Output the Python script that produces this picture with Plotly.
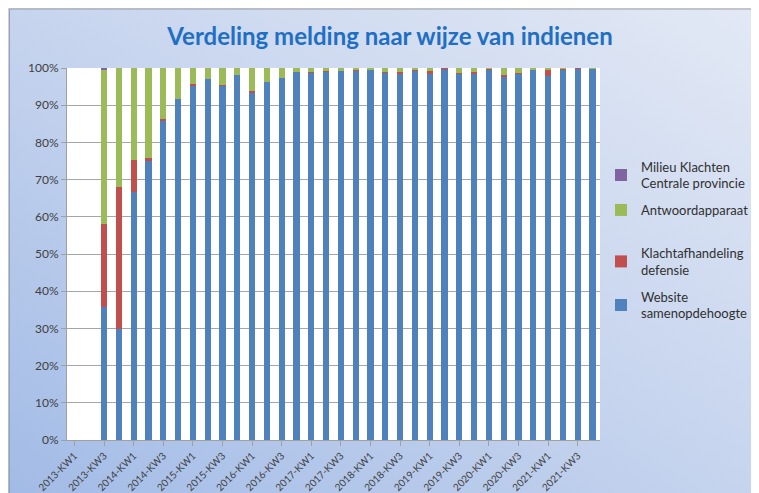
import base64
import plotly.graph_objects as go

years = [2013, 2014, 2015, 2016, 2017, 2018, 2019, 2020, 2021]
quarters = ["KW1", "KW2", "KW3", "KW4"]
categories = [f"{y}-{q}" for y in years for q in quarters]

# Percentages per quarter
website = [0, 0, 35.8, 29.8, 66.7, 75.2, 85.8, 91.8, 95.2, 97.0, 95.3, 98.1,
           93.5, 96.2, 97.4, 98.8, 98.8, 99.0, 99.2, 99.4, 99.5, 98.8, 98.4, 99.2,
           98.4, 99.7, 98.4, 98.6, 99.5, 97.8, 98.4, 99.5, 97.8, 99.5, 99.9, 99.9]
defensie = [0, 0, 22.2, 38.3, 8.6, 0.5, 0.5, 0.0, 0.4, 0.0, 0.1, 0.0,
            0.3, 0.0, 0.0, 0.0, 0.1, 0.2, 0.0, 0.2, 0.0, 0.2, 0.4, 0.4,
            0.9, 0.2, 0.3, 0.3, 0.3, 0.4, 0.3, 0.2, 1.6, 0.3, 0.1, 0.05]
antwoord = [0, 0, 41.5, 31.9, 24.7, 24.3, 13.7, 8.2, 4.4, 3.0, 4.6, 1.9,
            6.2, 3.8, 2.6, 1.2, 1.1, 0.8, 0.8, 0.4, 0.5, 1.0, 1.2, 0.4,
            0.7, 0.0, 1.3, 1.1, 0.2, 1.8, 1.3, 0.3, 0.6, 0.2, 0.0, 0.05]
milieu = [0, 0, 0.5, 0, 0, 0, 0, 0, 0, 0, 0, 0,
          0, 0, 0, 0, 0, 0, 0, 0, 0, 0, 0, 0,
          0, 0.1, 0, 0, 0, 0, 0, 0, 0, 0, 0, 0]

series_names = ["Website<br>samenopdehoogte", "Klachtafhandeling<br>defensie",
                "Antwoordapparaat", "Milieu Klachten<br>Centrale provincie"]
series_values = [website, defensie, antwoord, milieu]
series_colors = ["#4f81bd", "#c0504d", "#9bbb59", "#8064a2"]

# page has an 8px body margin, so the figure is 751x485
W, H = 751, 485
L, R, T, B = 59, 159, 60, 53
pw, ph = W - L - R, H - T - B
legend_centres = [297, 253.5, 202, 167]  # vertical centre of each legend entry (px)

xidx = list(range(len(categories)))

fig = go.Figure()
legend_ids = ["legend", "legend2", "legend3", "legend4"]
for name, vals, col, lid in zip(series_names, series_values, series_colors, legend_ids):
    fig.add_trace(go.Bar(
        x=xidx, y=[v / 100 for v in vals], name=name,
        marker=dict(color=col, line=dict(width=0)),
        legend=lid, showlegend=True,
    ))

def px_x(p):
    return (p - L) / pw

def px_y(p):
    return (H - B - p) / ph

svg = ('<svg xmlns="http://www.w3.org/2000/svg" width="751" height="485" preserveAspectRatio="none">'
       '<defs><linearGradient id="g" x1="0" y1="1" x2="1" y2="0">'
       '<stop offset="0" stop-color="#a2bbe6"/><stop offset="0.5" stop-color="#c6d4ee"/>'
       '<stop offset="1" stop-color="#e3e9f5"/></linearGradient></defs>'
       '<rect width="751" height="485" fill="url(#g)"/></svg>')
src = "data:image/svg+xml;base64," + base64.b64encode(svg.encode()).decode()

legend_common = dict(x=593 / W, xanchor="left", yanchor="middle",
                     xref="container", yref="container",
                     bgcolor="rgba(0,0,0,0)", font=dict(size=13, color="#303030"),
                     itemwidth=30)
legends = {lid: dict(legend_common, y=1 - yc / H) for lid, yc in zip(legend_ids, legend_centres)}

fig.update_layout(
    width=W, height=H,
    margin=dict(l=L, r=R, t=T, b=B, autoexpand=False),
    barmode="stack",
    bargap=0.58,
    showlegend=True,
    paper_bgcolor="white",
    plot_bgcolor="white",
    font=dict(family="Lato, sans-serif", size=12, color="#404040"),
    title=dict(text="Verdeling melding naar wijze van indienen",
               x=382 / W, xanchor="center", xref="container",
               y=1 - 29 / H, yanchor="middle", yref="container",
               font=dict(family="Lato, sans-serif", size=24, color="#1f6fc4", weight="bold")),
    images=[dict(source=src, xref="paper", yref="paper",
                 x=px_x(0), y=px_y(0), sizex=px_x(W) - px_x(0), sizey=px_y(0) - px_y(H),
                 xanchor="left", yanchor="top", sizing="stretch", layer="below")],
    shapes=[
        dict(type="rect", xref="paper", yref="paper",
             x0=px_x(1.5), x1=px_x(W + 5), y0=px_y(H + 5), y1=px_y(1),
             line=dict(color="#a0a0a0", width=1), fillcolor="rgba(0,0,0,0)", layer="below"),
        dict(type="rect", xref="paper", yref="paper", x0=0, x1=1, y0=0, y1=1,
             line=dict(width=0), fillcolor="white", layer="below"),
    ],
    **legends,
)

fig.update_xaxes(
    range=[-0.5, len(categories) - 0.5],
    tickmode="array", tickvals=xidx[::2], ticktext=categories[::2],
    tickangle=-45, tickfont=dict(size=10, color="#404040"),
    showline=True, linecolor="#a0a0a0", linewidth=1,
    ticks="outside", ticklen=5, tickcolor="#a0a0a0",
    showgrid=False, zeroline=False, automargin=False,
)
fig.update_yaxes(
    range=[0, 1], dtick=0.1, tickformat=".0%",
    tickfont=dict(size=12, color="#404040"),
    showline=True, linecolor="#a0a0a0", linewidth=1,
    ticks="outside", ticklen=5, tickcolor="#a0a0a0",
    showgrid=True, gridcolor="#a6a6a6", gridwidth=1, zeroline=False, automargin=False,
)

fig.write_html("out.html")
